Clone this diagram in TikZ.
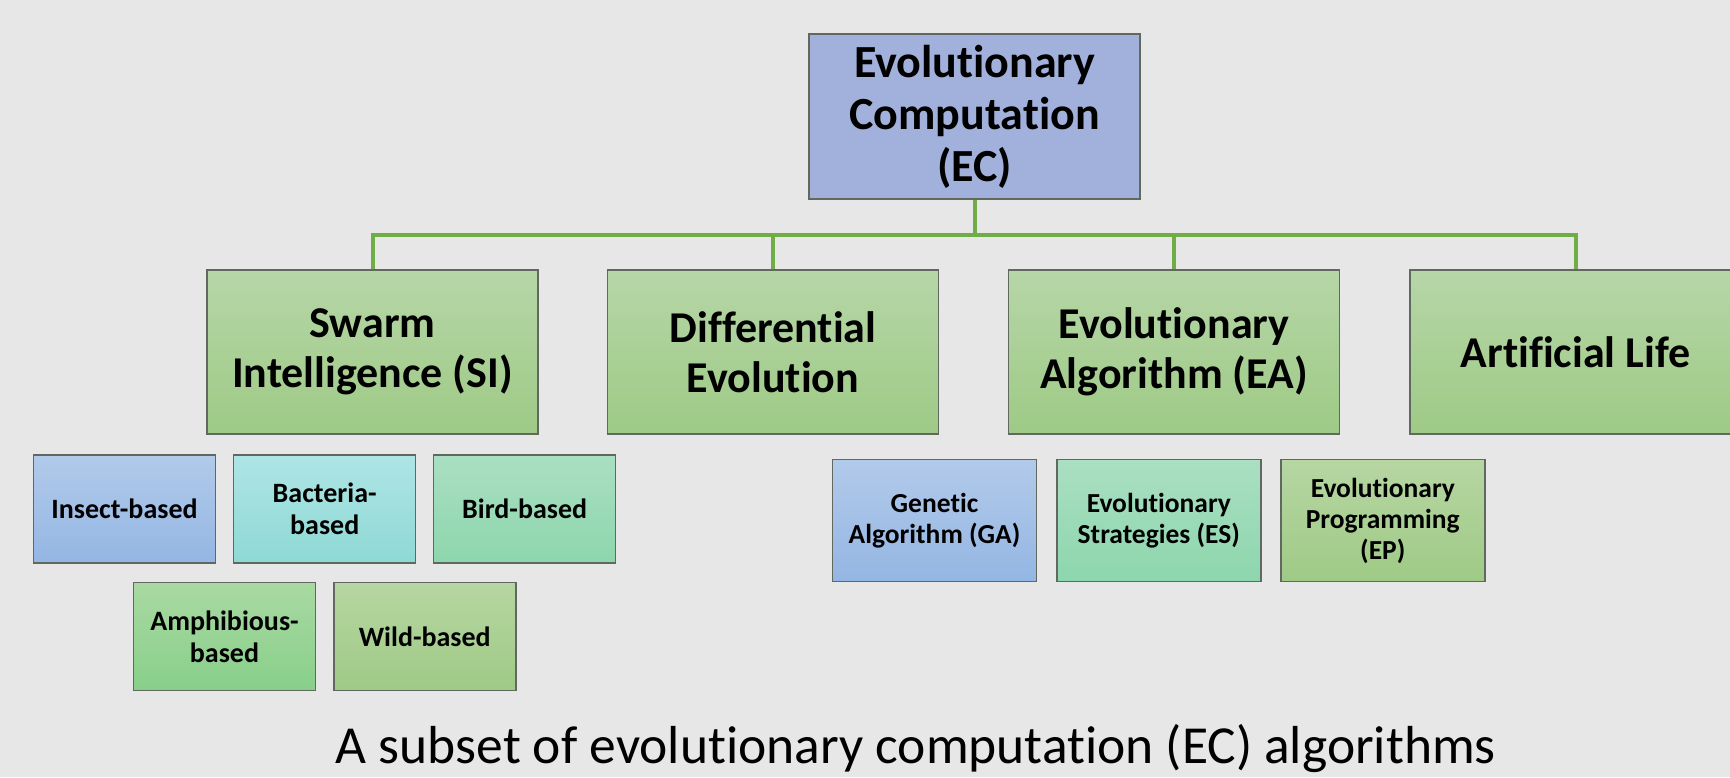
\documentclass[tikz,border=0pt]{standalone}
\usepackage{fontspec}
\setmainfont{Carlito}[Ligatures=NoCommon]
\definecolor{bg}{HTML}{E7E7E7}
\definecolor{ecfill}{HTML}{A2B1DB}
\definecolor{lvtop}{HTML}{B6D6A7}
\definecolor{lvbot}{HTML}{9ECA86}
\definecolor{linegreen}{HTML}{70AD47}
\definecolor{bordergray}{HTML}{606860}
\definecolor{bluetop}{HTML}{B2CAEA}
\definecolor{bluebot}{HTML}{94B6E3}
\definecolor{cyantop}{HTML}{AEE5E5}
\definecolor{cyanbot}{HTML}{8ED9D5}
\definecolor{minttop}{HTML}{AADFC2}
\definecolor{mintbot}{HTML}{8DD6AD}
\definecolor{greentop}{HTML}{A9D9A2}
\definecolor{greenbot}{HTML}{88CF8A}
\definecolor{olivetop}{HTML}{B6D6A2}
\definecolor{olivebot}{HTML}{9FCA86}
\tikzset{
  x=1pt, y=-1pt,
  box/.style={draw=bordergray, line width=1.4pt, rectangle, align=center,
    inner sep=0pt, font=\bfseries},
  ecbox/.style={box, fill=ecfill, minimum width=331pt, minimum height=165pt,
    font=\fontsize{46}{52}\selectfont\bfseries},
  lvbox/.style={box, top color=lvtop, bottom color=lvbot, minimum width=331pt,
    minimum height=164pt, font=\fontsize{44}{50}\selectfont\bfseries},
  smallbox/.style={box, minimum width=182pt, minimum height=108pt,
    font=\fontsize{28}{32}\selectfont\bfseries},
  eabox/.style={box, minimum width=204pt, minimum height=122pt,
    font=\fontsize{27.5}{31}\selectfont\bfseries},
  tree/.style={draw=linegreen, line width=4pt},
}
\begin{document}
\begin{tikzpicture}
\fill[bg] (0,0) rectangle (1730,777);
\useasboundingbox (0,0) rectangle (1730,777);
\clip (0,0) rectangle (1730,777);

\node[ecbox] (ec) at (974.5,116.5) {Evolutionary\\Computation\\(EC)};

\node[lvbox] (si) at (372.5,352) {Swarm\\Intelligence (SI)};
\node[lvbox] (de) at (773,352) {Differential\\Evolution};
\node[lvbox] (ea) at (1174,352) {Evolutionary\\Algorithm (EA)};
\node[lvbox] (al) at (1575.5,352) {Artificial Life};

\coordinate (hub) at (974.5,235);
\draw[tree] (ec.south) -- (hub);
\draw[tree] (si.north) |- (hub);
\draw[tree] (de.north) |- (hub);
\draw[tree] (ea.north) |- (hub);
\draw[tree] (al.north) |- (hub);

\node[smallbox, top color=bluetop, bottom color=bluebot] (insect) at (124.5,509) {Insect-based};
\node[smallbox, top color=cyantop, bottom color=cyanbot] (bact) at (324.7,509) {Bacteria-\\based};
\node[smallbox, top color=minttop, bottom color=mintbot] (bird) at (524.7,509) {Bird-based};
\node[smallbox, top color=greentop, bottom color=greenbot] (amph) at (224.5,636.3) {Amphibious-\\based};
\node[smallbox, top color=olivetop, bottom color=olivebot] (wild) at (424.8,636.3) {Wild-based};

\node[eabox, top color=bluetop, bottom color=bluebot] (ga) at (934.5,520.5) {Genetic\\Algorithm (GA)};
\node[eabox, top color=minttop, bottom color=mintbot] (es) at (1158.8,520.5) {Evolutionary\\Strategies (ES)};
\node[eabox, top color=olivetop, bottom color=olivebot] (ep) at (1382.8,520.5) {Evolutionary\\Programming\\(EP)};

\node[font=\fontsize{53.5}{60}\selectfont, anchor=base] (cap) at (916,763) {A subset of evolutionary computation (EC) algorithms};
\end{tikzpicture}
\end{document}
